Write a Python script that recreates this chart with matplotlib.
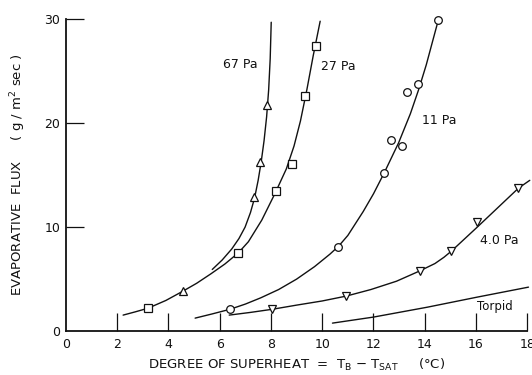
import matplotlib
matplotlib.use("Agg")
import matplotlib.pyplot as plt

# ---- data ----
# measured points
pa67_x = [4.57, 7.34, 7.58, 7.85]
pa67_y = [3.85, 12.9, 16.25, 21.7]
pa27_x = [3.2, 6.72, 8.2, 8.83, 9.34, 9.77]
pa27_y = [2.2, 7.5, 13.46, 16.06, 22.6, 27.4]
pa11_x = [6.4, 10.6, 12.4, 12.7, 13.1, 13.3, 13.75, 14.5]
pa11_y = [2.1, 8.1, 15.2, 18.4, 17.8, 23.0, 23.75, 29.9]
pa4_x = [8.05, 10.94, 13.8, 15.04, 16.05, 17.66]
pa4_y = [2.1, 3.37, 5.77, 7.7, 10.5, 13.8]

# fitted curves
c67_x = [5.71, 6.1, 6.47, 6.75, 6.99, 7.2, 7.36, 7.5, 7.62, 7.73, 7.83, 7.91, 7.97, 8.01]
c67_y = [5.93, 6.85, 7.9, 8.9, 10.0, 11.4, 12.8, 14.5, 16.3, 18.3, 20.6, 23.2, 26.2, 29.7]
c27_x = [2.23, 2.7, 3.2, 3.9, 4.57, 5.1, 5.65, 6.2, 6.73, 7.12, 7.64, 8.15, 8.6, 8.9, 9.15, 9.4, 9.65, 9.92]
c27_y = [1.54, 1.85, 2.2, 2.95, 3.85, 4.6, 5.5, 6.45, 7.53, 8.6, 10.67, 13.2, 15.6, 17.8, 20.2, 23.2, 26.5, 29.8]
c11_x = [5.04, 5.7, 6.4, 7.0, 7.6, 8.3, 9.0, 9.7, 10.3, 10.64, 11.0, 11.6, 12.0, 12.42, 12.98, 13.44, 13.76, 14.06, 14.3, 14.53]
c11_y = [1.25, 1.65, 2.1, 2.6, 3.2, 4.0, 5.0, 6.2, 7.4, 8.17, 9.2, 11.5, 13.2, 15.22, 18.1, 20.9, 23.2, 25.6, 27.8, 29.9]
c4_x = [6.37, 7.2, 8.05, 9.0, 10.0, 10.94, 11.9, 12.9, 13.79, 14.4, 14.75, 15.04, 16.05, 17.66, 18.1]
c4_y = [1.54, 1.8, 2.1, 2.5, 2.9, 3.37, 4.0, 4.8, 5.77, 6.5, 7.1, 7.69, 10.0, 13.75, 14.5]
ct_x = [10.4, 12.0, 14.1, 16.05, 18.05]
ct_y = [0.77, 1.35, 2.3, 3.27, 4.23]

curve_labels = ["67 Pa", "27 Pa", "11 Pa", "4.0 Pa", "Torpid"]
x_ticks = [0, 2, 4, 6, 8, 10, 12, 14, 16, 18]
y_ticks = [0, 10, 20, 30]

plt.rcParams['font.family'] = ['DejaVu Sans']
fig = plt.figure(figsize=(5.32, 3.75), dpi=100)
ax = fig.add_axes([0.124, 0.117, 0.867, 0.832])

lc = '#111111'
lw = 1.0
for cx, cy in [(c67_x, c67_y), (c27_x, c27_y), (c11_x, c11_y), (c4_x, c4_y), (ct_x, ct_y)]:
    ax.plot(cx, cy, color=lc, lw=lw, solid_capstyle='round', solid_joinstyle='round',
            clip_on=False, zorder=2)

mk = dict(mfc='white', mec=lc, mew=0.9, ms=5.5, ls='none', zorder=3, clip_on=False)
ax.plot(pa67_x, pa67_y, marker='^', **mk)
ax.plot(pa27_x, pa27_y, marker='s', **mk)
ax.plot(pa11_x, pa11_y, marker='o', **mk)
ax.plot(pa4_x, pa4_y, marker='v', **mk)

fs = 9
ax.text(6.13, 25.6, curve_labels[0], fontsize=fs, va='center', ha='left', color=lc)
ax.text(9.96, 25.4, curve_labels[1], fontsize=fs, va='center', ha='left', color=lc)
ax.text(13.9, 20.3, curve_labels[2], fontsize=fs, va='center', ha='left', color=lc)
ax.text(16.17, 8.75, curve_labels[3], fontsize=fs, va='center', ha='left', color=lc)
ax.text(16.05, 2.4, curve_labels[4], fontsize=fs - 0.5, va='center', ha='left', color=lc)

ax.set_xlim(0, 18)
ax.set_ylim(0, 30)
ax.set_xticks(x_ticks)
ax.set_yticks(y_ticks)
ax.set_xticklabels([str(t) for t in x_ticks], fontsize=fs)
ax.set_yticklabels([str(t) for t in y_ticks], fontsize=fs)
for s in ['top', 'right']:
    ax.spines[s].set_visible(False)
for s in ['left', 'bottom']:
    ax.spines[s].set_linewidth(1.3)
    ax.spines[s].set_color(lc)
ax.tick_params(axis='x', direction='in', length=13, width=0.9, pad=5, colors=lc)
ax.tick_params(axis='y', direction='in', length=13, width=0.9, pad=4, colors=lc)
ax.yaxis.get_major_ticks()[0].tick1line.set_visible(False)
ax.xaxis.get_major_ticks()[0].tick1line.set_visible(False)

ax.set_xlabel(r"DEGREE OF SUPERHEAT  =  T$_\mathregular{B}$ $-$ T$_\mathregular{SAT}$     (°C)",
              fontsize=9.5, color=lc, labelpad=4)
ax.set_ylabel(r"EVAPORATIVE  FLUX     ( g / m$^\mathregular{2}$ sec )", fontsize=9.5, color=lc,
              labelpad=12)

fig.savefig("out.png", dpi=100)
